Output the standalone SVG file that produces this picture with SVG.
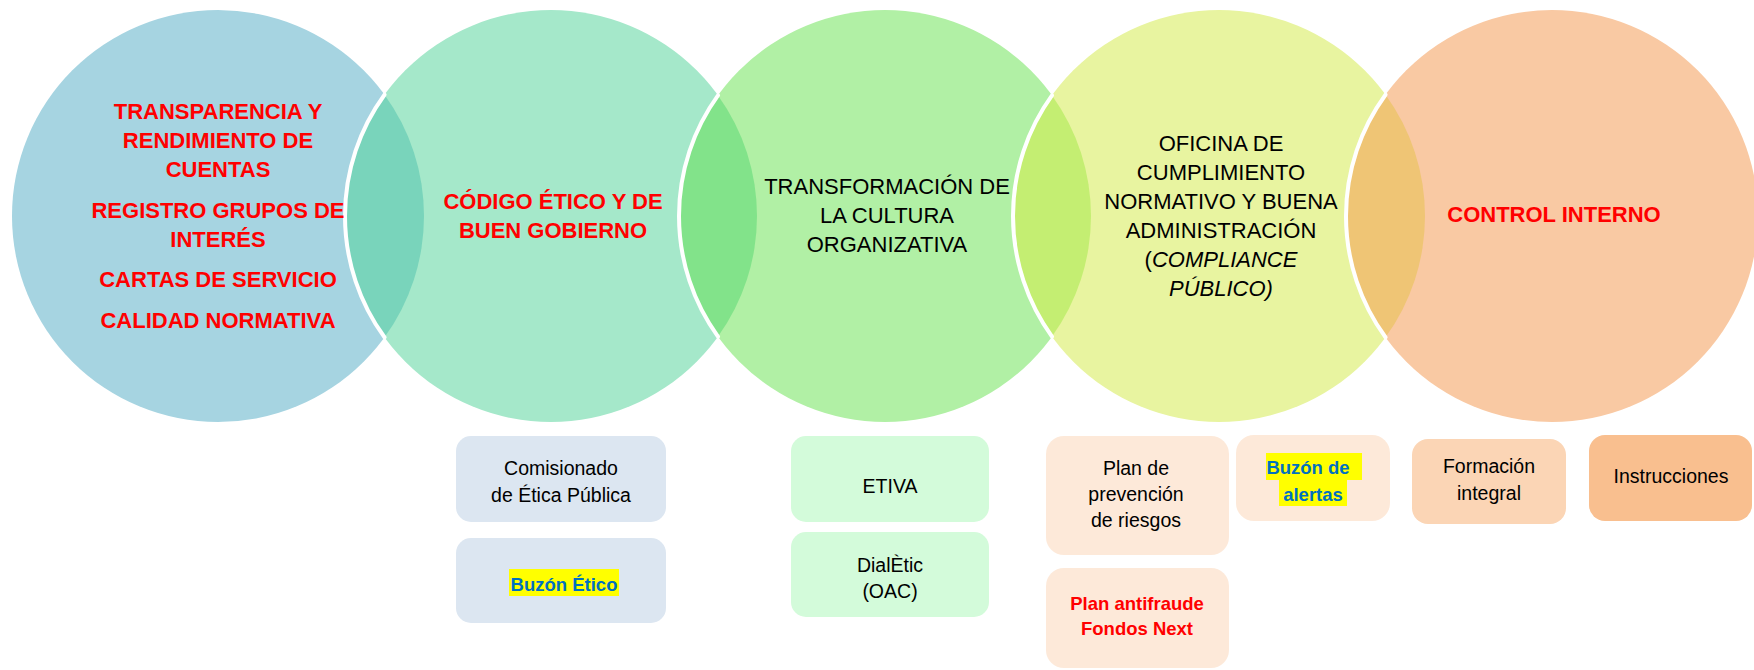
<svg xmlns="http://www.w3.org/2000/svg" width="1754" height="670" viewBox="0 0 1754 670">
<style>
text{font-family:"Liberation Sans",Arial,sans-serif;text-anchor:middle}
.big{font-size:22px}
.bb{font-size:22px;font-weight:bold;fill:#FF0000}
.bn{font-size:22px;fill:#000}
.it{font-style:italic}
.sm{font-size:19.5px;fill:#000}
.smb{font-size:18.5px;font-weight:bold}
.blue{fill:#0070C0}
.red{fill:#FF0000}
.hl{fill:#FFFF00}
.edge{fill:none;stroke:#FFFFFF;stroke-width:4;stroke-linecap:round}
</style>
<rect width="1754" height="670" fill="#FFFFFF"/>
<g id="circles">
<circle cx="218" cy="216" r="206" fill="#A6D4E1"/>
<circle cx="551" cy="216" r="206" fill="#A5E8CA"/>
<circle cx="885" cy="216" r="206" fill="#B1F0A5"/>
<circle cx="1219" cy="216" r="206" fill="#E8F4A0"/>
<circle cx="1552" cy="216" r="206" fill="#F9C9A3"/>
<path d="M384.5,94.7 A206,206 0 0 1 384.5,337.3 A206,206 0 0 1 384.5,94.7 Z" fill="#79D4BB"/>
<path d="M718,95.4 A206,206 0 0 1 718,336.6 A206,206 0 0 1 718,95.4 Z" fill="#82E38A"/>
<path d="M1052,95.4 A206,206 0 0 1 1052,336.6 A206,206 0 0 1 1052,95.4 Z" fill="#C4EE72"/>
<path d="M1385.5,94.7 A206,206 0 0 1 1385.5,337.3 A206,206 0 0 1 1385.5,94.7 Z" fill="#EFC575"/>
<path class="edge" d="M384.5,94.7 A206,206 0 0 0 384.5,337.3"/>
<path class="edge" d="M718,95.4 A206,206 0 0 0 718,336.6"/>
<path class="edge" d="M1052,95.4 A206,206 0 0 0 1052,336.6"/>
<path class="edge" d="M1385.5,94.7 A206,206 0 0 0 1385.5,337.3"/>
</g>
<g id="node-transparencia">
<text class="bb" x="218" y="119">TRANSPARENCIA Y</text>
<text class="bb" x="218" y="148">RENDIMIENTO DE</text>
<text class="bb" x="218" y="177">CUENTAS</text>
<text class="bb" x="218" y="218">REGISTRO GRUPOS DE</text>
<text class="bb" x="218" y="247">INTERÉS</text>
<text class="bb" x="218" y="287">CARTAS DE SERVICIO</text>
<text class="bb" x="218" y="328">CALIDAD NORMATIVA</text>
</g>
<g id="node-codigo">
<text class="bb" x="553" y="209">CÓDIGO ÉTICO Y DE</text>
<text class="bb" x="553" y="238">BUEN GOBIERNO</text>
</g>
<g id="node-transformacion">
<text class="bn" x="887" y="194">TRANSFORMACIÓN DE</text>
<text class="bn" x="887" y="223">LA CULTURA</text>
<text class="bn" x="887" y="252">ORGANIZATIVA</text>
</g>
<g id="node-oficina">
<text class="bn" x="1221" y="151">OFICINA DE</text>
<text class="bn" x="1221" y="180">CUMPLIMIENTO</text>
<text class="bn" x="1221" y="209">NORMATIVO Y BUENA</text>
<text class="bn" x="1221" y="238">ADMINISTRACIÓN</text>
<text class="bn" x="1221" y="267">(<tspan class="it">COMPLIANCE</tspan></text>
<text class="bn it" x="1221" y="296">PÚBLICO)</text>
</g>
<g id="node-control">
<text class="bb" x="1554" y="222">CONTROL INTERNO</text>
</g>
<g id="box-comisionado">
<rect x="456" y="436" width="210" height="86" rx="15" fill="#DCE6F1"/>
<text class="sm" x="561" y="475">Comisionado</text>
<text class="sm" x="561" y="502">de Ética Pública</text>
</g>
<g id="box-buzon-etico">
<rect x="456" y="538" width="210" height="85" rx="15" fill="#DCE6F1"/>
<rect class="hl" x="509" y="569" width="110" height="27"/>
<text class="smb blue" x="564" y="591">Buzón Ético</text>
</g>
<g id="box-etiva">
<rect x="791" y="436" width="198" height="86" rx="15" fill="#D3FBDA"/>
<text class="sm" x="890" y="493">ETIVA</text>
</g>
<g id="box-dialetic">
<rect x="791" y="532" width="198" height="85" rx="15" fill="#D3FBDA"/>
<text class="sm" x="890" y="572">DialÈtic</text>
<text class="sm" x="890" y="598">(OAC)</text>
</g>
<g id="box-plan-prevencion">
<rect x="1046" y="436" width="183" height="119" rx="18" fill="#FDE9D9"/>
<text class="sm" x="1136" y="475">Plan de</text>
<text class="sm" x="1136" y="501">prevención</text>
<text class="sm" x="1136" y="527">de riesgos</text>
</g>
<g id="box-buzon-alertas">
<rect x="1236" y="435" width="154" height="86" rx="18" fill="#FDE9D9"/>
<rect class="hl" x="1266" y="453" width="96" height="27"/>
<rect class="hl" x="1279" y="480" width="68" height="26"/>
<text class="smb blue" x="1308" y="474">Buzón de</text>
<text class="smb blue" x="1313" y="501">alertas</text>
</g>
<g id="box-formacion">
<rect x="1412" y="439" width="154" height="85" rx="16" fill="#FBD5B5"/>
<text class="sm" x="1489" y="473">Formación</text>
<text class="sm" x="1489" y="500">integral</text>
</g>
<g id="box-instrucciones">
<rect x="1589" y="435" width="163" height="86" rx="16" fill="#F9BF8F"/>
<text class="sm" x="1671" y="483">Instrucciones</text>
</g>
<g id="box-plan-antifraude">
<rect x="1046" y="568" width="183" height="100" rx="18" fill="#FDE9D9"/>
<text class="smb red" x="1137" y="610">Plan antifraude</text>
<text class="smb red" x="1137" y="635">Fondos Next</text>
</g>
<g id="connectors"/>
</svg>
